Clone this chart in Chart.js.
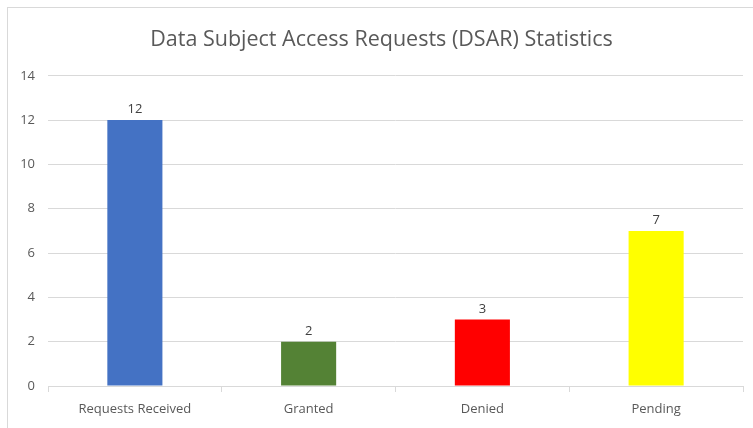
<!DOCTYPE html>
<html>
<head>
<meta charset="utf-8">
<script src="https://cdn.jsdelivr.net/npm/chart.js@4/dist/chart.umd.min.js"></script>
<style>
  html, body { margin: 0; padding: 0; background: #fff; }
  #wrap { position: relative; width: 753px; height: 428px; }
  #frame { position: absolute; left: 7px; top: 7px; right: -2px; bottom: -2px;
           border-top: 1px solid #d9d9d9; border-left: 1px solid #d9d9d9; pointer-events: none; }
  canvas { position: absolute; left: 0; top: 0; }
</style>
</head>
<body>
<div id="wrap">
  <canvas id="c" width="753" height="428"></canvas>
  <div id="frame"></div>
</div>
<script>
const titleText = "Data Subject Access Requests (DSAR) Statistics";
const categories = ["Requests Received", "Granted", "Denied", "Pending"];
const values = [12, 2, 3, 7];
const barColors = ["#4472C4", "#548235", "#FF0000", "#FFFF00"];
const yTicks = [0, 2, 4, 6, 8, 10, 12, 14];

const FONT = "'Open Sans', 'Liberation Sans', sans-serif";
const TEXT = "#595959";
const GRID = "#d9d9d9";

const valueLabels = {
  id: "valueLabels",
  afterDatasetsDraw(chart) {
    const ctx = chart.ctx;
    const meta = chart.getDatasetMeta(0);
    ctx.save();
    ctx.font = "13px " + FONT;
    ctx.fillStyle = "#404040";
    ctx.textAlign = "center";
    ctx.textBaseline = "bottom";
    meta.data.forEach((bar, i) => {
      ctx.fillText(String(values[i]), bar.x, bar.y - 4);
    });
    ctx.restore();
  }
};

new Chart(document.getElementById("c"), {
  type: "bar",
  data: {
    labels: categories,
    datasets: [{
      data: values,
      backgroundColor: barColors,
      borderWidth: 0,
      categoryPercentage: 1,
      barPercentage: 0.317
    }]
  },
  options: {
    responsive: false,
    animation: false,
    layout: { padding: { left: 20, right: 10, top: 0, bottom: 0 } },
    plugins: {
      legend: { display: false },
      tooltip: { enabled: false },
      title: {
        display: true,
        text: titleText,
        color: TEXT,
        font: { family: FONT, size: 21.5, weight: "normal", lineHeight: 1.2 },
        padding: { top: 27, bottom: 23 }
      }
    },
    scales: {
      x: {
        grid: { display: true, offset: true, color: GRID, drawOnChartArea: false, tickLength: 6 },
        border: { color: GRID },
        ticks: { color: TEXT, font: { family: FONT, size: 13 }, padding: 9 },
        afterFit(scale) { scale.height = 42; }
      },
      y: {
        min: 0, max: 14,
        afterBuildTicks(scale) { scale.ticks = yTicks.map(v => ({ value: v })); },
        grid: { color: GRID, drawTicks: false },
        border: { display: false },
        ticks: { color: TEXT, font: { family: FONT, size: 13 }, padding: 13 },
        afterFit(scale) { scale.width = 28; }
      }
    }
  },
  plugins: [valueLabels]
});
</script>
</body>
</html>
